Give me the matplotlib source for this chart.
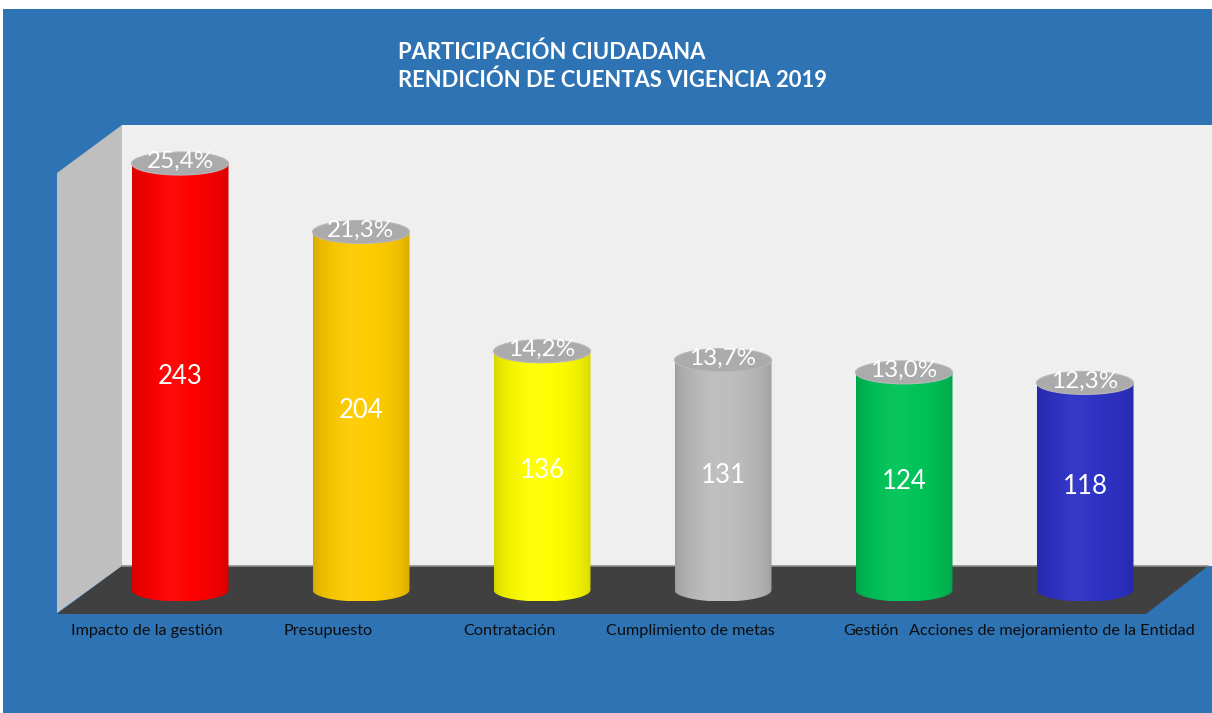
import numpy as np
import matplotlib
matplotlib.use("Agg")
import matplotlib.pyplot as plt
from matplotlib.patches import Polygon, Ellipse, PathPatch, Rectangle
from matplotlib.path import Path
from matplotlib.colors import to_rgb

plt.rcParams['font.family'] = ['Lato', 'DejaVu Sans']

# ---- data ----
categories = ["Impacto de la gestión", "Presupuesto", "Contratación",
              "Cumplimiento de metas", "Gestión", "Acciones de mejoramiento de la Entidad"]
values = [243, 204, 136, 131, 124, 118]
percents = [25.4, 21.3, 14.2, 13.7, 13.0, 12.3]
bar_colors = ["#FF0000", "#FFCC00", "#FFFF00", "#BDBDBD", "#00C458", "#2E32C6"]
title_lines = ["PARTICIPACIÓN CIUDADANA", "RENDICIÓN DE CUENTAS VIGENCIA 2019"]

W, H = 1212, 713
fig = plt.figure(figsize=(W / 100, H / 100), dpi=100)
fig.patch.set_facecolor("white")
fig.patches.append(Rectangle((3 / W, 0), 1, 1 - 9 / H, transform=fig.transFigure,
                             facecolor="#2E74B5", edgecolor="none", zorder=-5))

ax = fig.add_axes([0, 0, 1, 1])
ax.set_zorder(1)
ax.set_facecolor("none")
ax.axis("off")

# pixel layout of the pseudo-3D scene
X0PX, STEP = 180.0, 181.0      # centre of first cylinder, spacing
Y0PX, PPU = 590.0, 1.755       # baseline pixel row, pixels per unit


def px(x, y):
    return ((x - X0PX) / STEP, (Y0PX - y) / PPU)


# walls and floor
back = [px(122, 125), px(W, 125), px(W, 566), px(122, 566)]
left = [px(57, 173), px(122, 125), px(122, 566), px(57, 613)]
floor = [px(122, 566), px(1208, 566), px(1146, 614), px(57, 614)]
ax.add_patch(Polygon(back, closed=True, facecolor="#EFEFEF", edgecolor="none", zorder=1))
ax.add_patch(Polygon(left, closed=True, facecolor="#BFBFBF", edgecolor="none", zorder=1))
ax.add_patch(Polygon(floor, closed=True, facecolor="#404040", edgecolor="none", zorder=1))
ax.plot(*zip(px(122, 566), px(1208, 566)), color="#8C8C8C", lw=1.2, zorder=1.5)

hw = 48.5 / STEP           # half width in x units
b = 11.5 / PPU             # ellipse semi-minor in y units


def shade_strip(color, n=200):
    t = np.linspace(0, 1, n)
    base = np.array(to_rgb(color))
    shade = 0.82 + 0.18 * np.sin(np.pi * t) ** 0.5
    hi = 0.04 * np.exp(-((t - 0.40) / 0.15) ** 2)
    rgb = base[None, :] * shade[:, None]
    rgb = rgb * (1 - hi[:, None]) + hi[:, None]
    return np.clip(rgb, 0, 1)[None, :, :]


for i, (v, p, c) in enumerate(zip(values, percents, bar_colors)):
    th = np.linspace(np.pi, 2 * np.pi, 60)
    verts = [(i - hw, v)] + [(i + hw * np.cos(a), b * np.sin(a)) for a in th] + [(i + hw, v), (i - hw, v)]
    codes = [Path.MOVETO] + [Path.LINETO] * (len(verts) - 2) + [Path.CLOSEPOLY]
    body = PathPatch(Path(verts, codes), facecolor="none", edgecolor="none", zorder=2)
    ax.add_patch(body)
    im = ax.imshow(shade_strip(c), extent=(i - hw, i + hw, -b, v), aspect="auto",
                   interpolation="bilinear", zorder=2)
    im.set_clip_path(body)
    ax.add_patch(Ellipse((i, v), 2 * hw, 2 * b, facecolor="#ABABAB",
                         edgecolor="#B8B8B8", lw=0.8, zorder=3))
    ax.text(i, v + 1, f"{p:.1f}".replace(".", ",") + "%", ha="center", va="center",
            color="white", fontsize=17.5, zorder=4)
    ax.text(i, v / 2, f"{v}", ha="center", va="center", color="white",
            fontsize=18.5, zorder=4)
    ax.text(i - 33 / STEP, px(0, 631)[1], categories[i], ha="center", va="center",
            color="#0D0D0D", fontsize=11.7, zorder=4)

ax.set_xlim(px(0, 0)[0], px(W, 0)[0])
ax.set_ylim(px(0, H)[1], px(0, 0)[1])

fig.text(398 / W, 1 - 52 / H, title_lines[0], ha="left", va="center", color="white",
         fontsize=15.8, fontweight="bold", zorder=5)
fig.text(398 / W, 1 - 80 / H, title_lines[1], ha="left", va="center", color="white",
         fontsize=15.8, fontweight="bold", zorder=5)

fig.savefig("out.png", dpi=100)
